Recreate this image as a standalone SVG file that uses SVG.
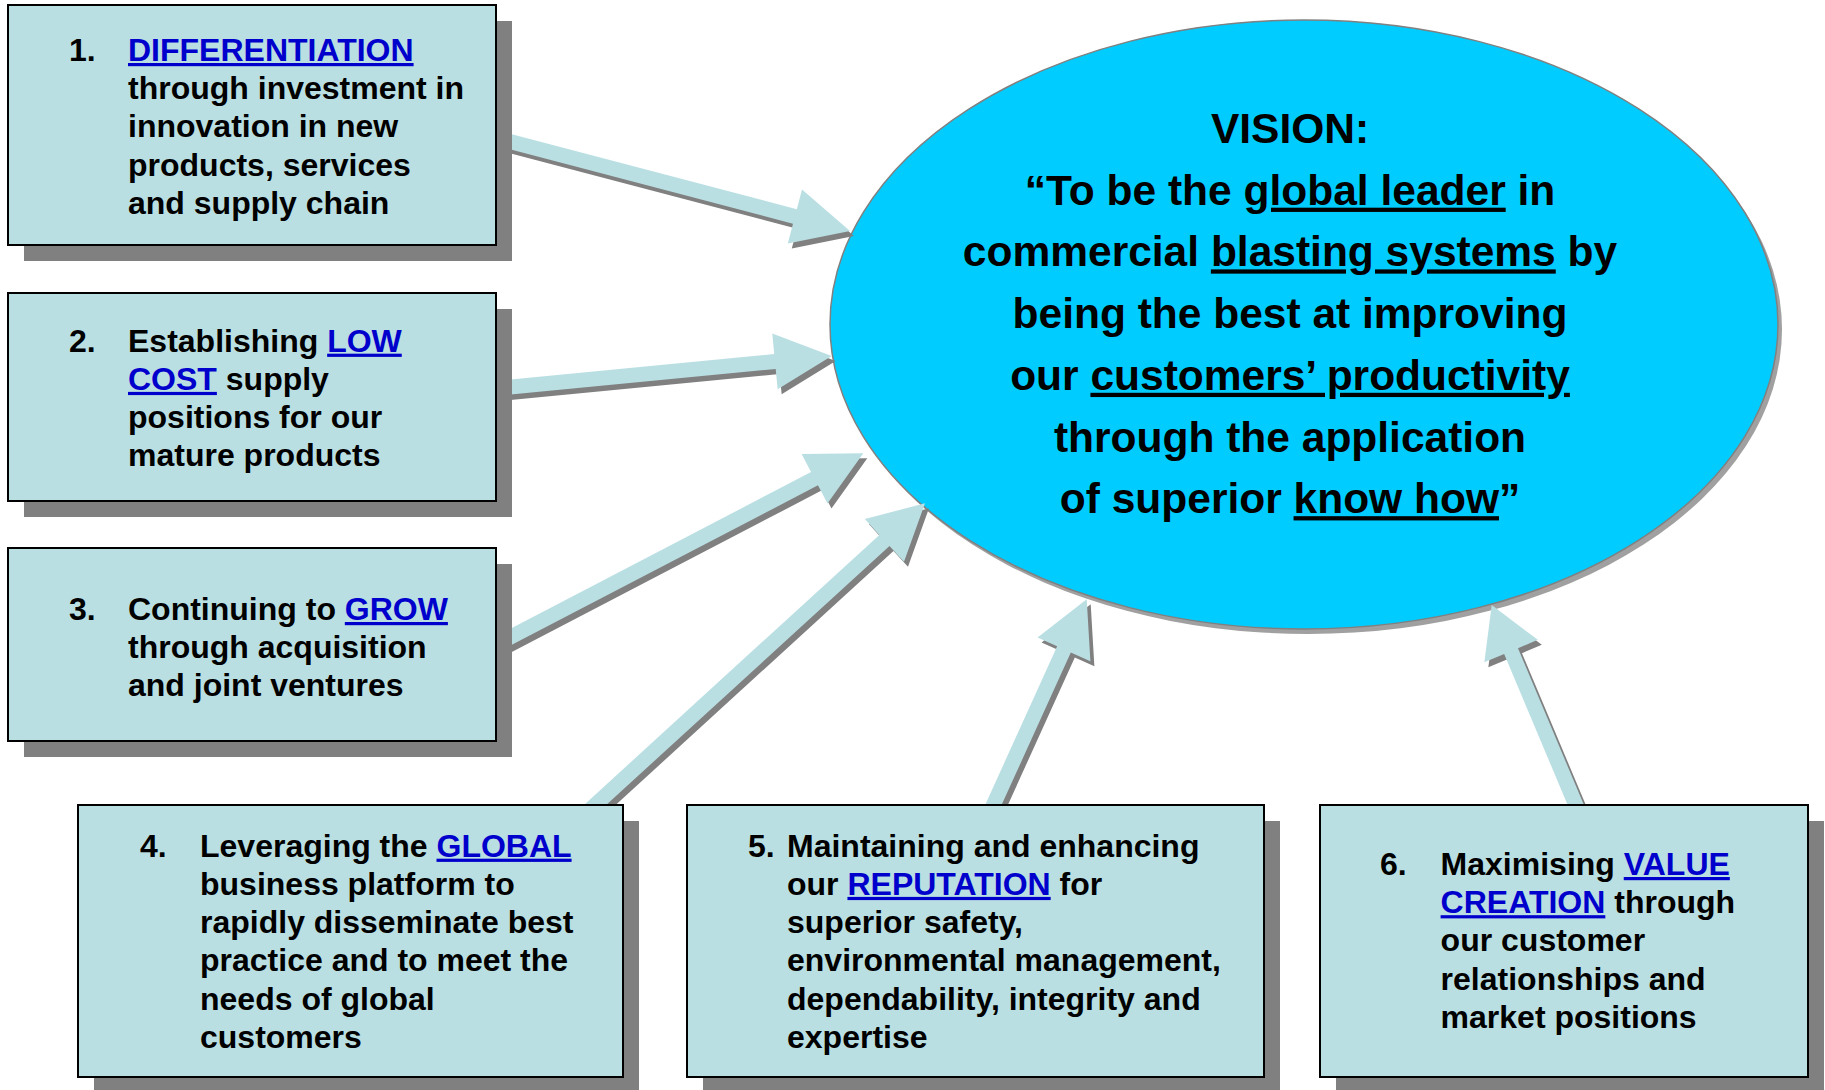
<svg xmlns="http://www.w3.org/2000/svg" width="1825" height="1090" viewBox="0 0 1825 1090">
<style>
.bx{fill:#BADFE3;stroke:#000;stroke-width:2}
.sh{fill:#808080}
.af{fill:#BADFE3}
.as{fill:#808080}
.t{font-family:"Liberation Sans",Arial,sans-serif;font-weight:bold;font-size:32px;fill:#000}
.v{font-family:"Liberation Sans",Arial,sans-serif;font-weight:bold;font-size:42.5px;fill:#000;text-anchor:middle}
.lk{fill:#0000CC;text-decoration:underline}
.u{text-decoration:underline}
</style>
<rect width="1825" height="1090" fill="#fff"/>
<g id="vision">
<ellipse cx="1308" cy="329.5" rx="474" ry="304.5" fill="#A0A0A0"/>
<ellipse cx="1304" cy="324.5" rx="474" ry="304.5" fill="#00CCFF" stroke="#808080" stroke-width="1.5"/>
<text class="v" x="1290" y="143">VISION:</text>
<text class="v" x="1290" y="204.7">“To be the <tspan class="u">global leader</tspan> in</text>
<text class="v" x="1290" y="266.4">commercial <tspan class="u">blasting systems</tspan> by</text>
<text class="v" x="1290" y="328.1">being the best at improving</text>
<text class="v" x="1290" y="389.8">our <tspan class="u">customers’ productivity</tspan></text>
<text class="v" x="1290" y="451.5">through the application</text>
<text class="v" x="1290" y="513.2">of superior <tspan class="u">know how</tspan>”</text>
</g>
<g id="connectors">
<g transform="translate(4,5)">
<polygon class="as" points="478.09,140.85 792.99,223.75 787.77,243.58 850,231 802.03,189.42 796.81,209.25 481.91,126.35"/>
<polygon class="as" points="480.72,397.47 775.68,368.95 777.65,389.35 831.7,356 772.27,333.61 774.24,354.01 479.28,382.53"/>
<polygon class="as" points="483.47,659.65 817.99,485.37 827.46,503.55 863.3,453.3 801.58,453.89 811.05,472.07 476.53,646.35"/>
<polygon class="as" points="572.76,835.53 889.48,545.94 903.99,561.81 925,503.3 864.85,519.01 879.36,534.88 562.64,824.47"/>
<polygon class="as" points="988.83,833.10 1070.80,652.48 1090.38,661.37 1086.7,599.3 1037.56,637.39 1057.14,646.28 975.17,826.90"/>
<polygon class="as" points="1593.21,827.09 1517.99,648.18 1537.81,639.85 1491.7,605 1484.35,662.33 1504.17,654.0 1579.39,832.91"/>
</g>
<polygon class="af" points="478.09,140.85 792.99,223.75 787.77,243.58 850,231 802.03,189.42 796.81,209.25 481.91,126.35"/>
<polygon class="af" points="480.72,397.47 775.68,368.95 777.65,389.35 831.7,356 772.27,333.61 774.24,354.01 479.28,382.53"/>
<polygon class="af" points="483.47,659.65 817.99,485.37 827.46,503.55 863.3,453.3 801.58,453.89 811.05,472.07 476.53,646.35"/>
<polygon class="af" points="572.76,835.53 889.48,545.94 903.99,561.81 925,503.3 864.85,519.01 879.36,534.88 562.64,824.47"/>
<polygon class="af" points="988.83,833.10 1070.80,652.48 1090.38,661.37 1086.7,599.3 1037.56,637.39 1057.14,646.28 975.17,826.90"/>
<polygon class="af" points="1593.21,827.09 1517.99,648.18 1537.81,639.85 1491.7,605 1484.35,662.33 1504.17,654.0 1579.39,832.91"/>
</g>
<g id="box1">
<rect class="sh" x="24" y="21" width="488" height="240"/>
<rect class="bx" x="8" y="5" width="488" height="240"/>
<text class="t" x="69" y="61">1.</text>
<text class="t" x="128" y="61"><tspan class="lk">DIFFERENTIATION</tspan></text>
<text class="t" x="128" y="99.2">through investment in</text>
<text class="t" x="128" y="137.4">innovation in new</text>
<text class="t" x="128" y="175.6">products, services</text>
<text class="t" x="128" y="213.8">and supply chain</text>
</g>
<g id="box2">
<rect class="sh" x="24" y="309" width="488" height="208"/>
<rect class="bx" x="8" y="293" width="488" height="208"/>
<text class="t" x="69" y="351.7">2.</text>
<text class="t" x="128" y="351.7">Establishing <tspan class="lk">LOW</tspan></text>
<text class="t" x="128" y="389.9"><tspan class="lk">COST</tspan> supply</text>
<text class="t" x="128" y="428.1">positions for our</text>
<text class="t" x="128" y="466.3">mature products</text>
</g>
<g id="box3">
<rect class="sh" x="24" y="564" width="488" height="193"/>
<rect class="bx" x="8" y="548" width="488" height="193"/>
<text class="t" x="69" y="620">3.</text>
<text class="t" x="128" y="620">Continuing to <tspan class="lk">GROW</tspan></text>
<text class="t" x="128" y="658.2">through acquisition</text>
<text class="t" x="128" y="696.4">and joint ventures</text>
</g>
<g id="box4">
<rect class="sh" x="94" y="821" width="545" height="272"/>
<rect class="bx" x="78" y="805" width="545" height="272"/>
<text class="t" x="140" y="856.7">4.</text>
<text class="t" x="200" y="856.7">Leveraging the <tspan class="lk">GLOBAL</tspan></text>
<text class="t" x="200" y="894.9">business platform to</text>
<text class="t" x="200" y="933.1">rapidly disseminate best</text>
<text class="t" x="200" y="971.3">practice and to meet the</text>
<text class="t" x="200" y="1009.5">needs of global</text>
<text class="t" x="200" y="1047.7">customers</text>
</g>
<g id="box5">
<rect class="sh" x="703" y="821" width="577" height="272"/>
<rect class="bx" x="687" y="805" width="577" height="272"/>
<text class="t" x="748" y="856.7">5.</text>
<text class="t" x="787" y="856.7">Maintaining and enhancing</text>
<text class="t" x="787" y="894.9">our <tspan class="lk">REPUTATION</tspan> for</text>
<text class="t" x="787" y="933.1">superior safety,</text>
<text class="t" x="787" y="971.3">environmental management,</text>
<text class="t" x="787" y="1009.5">dependability, integrity and</text>
<text class="t" x="787" y="1047.7">expertise</text>
</g>
<g id="box6">
<rect class="sh" x="1336" y="821" width="488" height="272"/>
<rect class="bx" x="1320" y="805" width="488" height="272"/>
<text class="t" x="1380" y="875">6.</text>
<text class="t" x="1440.6" y="875">Maximising <tspan class="lk">VALUE</tspan></text>
<text class="t" x="1440.6" y="913.2"><tspan class="lk">CREATION</tspan> through</text>
<text class="t" x="1440.6" y="951.4">our customer</text>
<text class="t" x="1440.6" y="989.6">relationships and</text>
<text class="t" x="1440.6" y="1027.8">market positions</text>
</g>
</svg>
